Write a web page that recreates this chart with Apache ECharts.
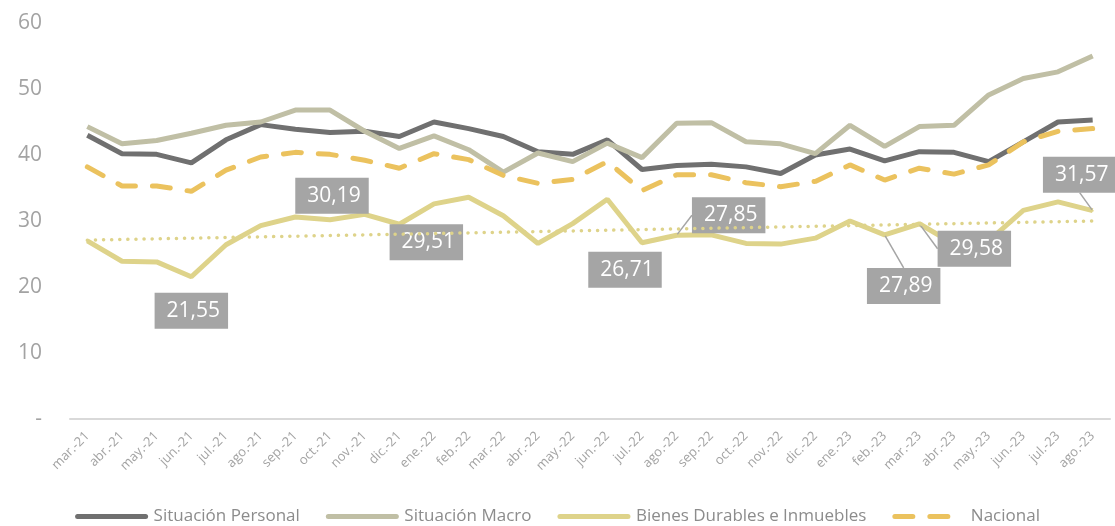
<!DOCTYPE html>
<html>
<head>
<meta charset="utf-8">
<script src="https://cdn.jsdelivr.net/npm/echarts@6/dist/echarts.min.js"></script>
<style>
    html, body { margin: 0; padding: 0; background: #fff; }
    #chart { width: 1115px; height: 526px; }
</style>
</head>
<body>
<div id="chart"></div>
<script>
    // months shown on the x axis
    var months = ['mar.-21', 'abr.-21', 'may.-21', 'jun.-21', 'jul.-21', 'ago.-21', 'sep.-21', 'oct.-21', 'nov.-21', 'dic.-21',
        'ene.-22', 'feb.-22', 'mar.-22', 'abr.-22', 'may.-22', 'jun.-22', 'jul.-22', 'ago.-22', 'sep.-22', 'oct.-22',
        'nov.-22', 'dic.-22', 'ene.-23', 'feb.-23', 'mar.-23', 'abr.-23', 'may.-23', 'jun.-23', 'jul.-23', 'ago.-23'];

    var personal = [43.0, 40.2, 40.1, 38.8, 42.3, 44.6, 43.9, 43.4, 43.6, 42.8,
        45.0, 44.0, 42.8, 40.5, 40.1, 42.3, 37.8, 38.4, 38.6, 38.2,
        37.2, 40.0, 40.9, 39.1, 40.5, 40.4, 39.0, 42.0, 45.0, 45.3];

    var macro = [44.3, 41.7, 42.2, 43.3, 44.5, 45.0, 46.8, 46.8, 43.6, 41.0,
        42.9, 40.8, 37.4, 40.3, 39.0, 41.8, 39.6, 44.8, 44.9, 42.0,
        41.7, 40.2, 44.5, 41.3, 44.3, 44.5, 49.1, 51.6, 52.6, 55.0];

    var bienes = [27.0, 23.9, 23.8, 21.55, 26.4, 29.3, 30.6, 30.19, 31.0, 29.51,
        32.6, 33.6, 30.8, 26.6, 29.6, 33.3, 26.71, 27.85, 27.9, 26.6,
        26.5, 27.4, 30.0, 27.89, 29.58, 26.5, 27.0, 31.6, 32.9, 31.57];

    var nacional = [38.2, 35.3, 35.3, 34.5, 37.7, 39.7, 40.4, 40.1, 39.2, 38.0,
        40.2, 39.3, 36.9, 35.7, 36.3, 39.0, 34.6, 37.0, 37.0, 35.8,
        35.2, 36.0, 38.5, 36.2, 38.0, 37.1, 38.5, 42.0, 43.6, 44.0];

    // start / end of the dotted trend line of Bienes Durables
    var trendEnds = [27.1, 30.0];

    var seriesNames = ['Situación Personal', 'Situación Macro', 'Bienes Durables e Inmuebles', 'Nacional'];

    // which Bienes points carry a value box, and where the box sits
    var labelShift = {
        3: { dx: 0, dy: 34 },
        7: { dx: 2, dy: -24 },
        9: { dx: 27, dy: 18 },
        16: { dx: -17, dy: 27 },
        17: { dx: 52, dy: -20, line: true },
        23: { dx: 19, dy: 51, line: true },
        24: { dx: 55, dy: 25, line: true },
        29: { dx: -13, dy: -36, line: true }
    };

    var font = 'Open Sans';
    var gray = '#a3a3a3';

    var bienesData = bienes.map(function (v, i) {
        var s = labelShift[i];
        if (!s) return v;
        return {
            value: v,
            label: { show: true },
            labelLine: { show: !!s.line, lineStyle: { color: '#a5a5a5', width: 1.5 } }
        };
    });

    var chart = echarts.init(document.getElementById('chart'));
    chart.setOption({
        animation: false,
        textStyle: { fontFamily: font },
        grid: { left: 70, right: 5, top: 23, bottom: 107, containLabel: false },
        legend: {
            data: seriesNames,
            bottom: -4,
            left: 'center',
            itemWidth: 68,
            itemHeight: 12,
            itemGap: 26,
            itemStyle: { opacity: 0 },
            lineStyle: { width: 5, cap: 'round' },
            textStyle: { color: '#8c8c8c', fontSize: 17, fontFamily: font, padding: [0, 0, 0, 3] }
        },
        xAxis: {
            type: 'category',
            data: months,
            boundaryGap: true,
            axisLine: { lineStyle: { color: '#d9d9d9', width: 2 } },
            axisTick: { show: false },
            axisLabel: { rotate: 45, interval: 0, color: gray, fontSize: 13, margin: 15, fontFamily: font }
        },
        yAxis: {
            type: 'value',
            min: 0,
            max: 60,
            interval: 10,
            splitLine: { show: false },
            axisLine: { show: false },
            axisTick: { show: false },
            axisLabel: {
                color: gray, fontSize: 21, margin: 28, fontFamily: font,
                formatter: function (v) { return v === 0 ? '-' : v; }
            }
        },
        series: [
            {
                name: seriesNames[0], type: 'line', data: personal, symbol: 'none', z: 2,
                lineStyle: { color: '#707070', width: 5 }, itemStyle: { color: '#707070' }
            },
            {
                name: seriesNames[1], type: 'line', data: macro, symbol: 'none', z: 3,
                lineStyle: { color: '#c0bfa5', width: 5 }, itemStyle: { color: '#c0bfa5' }
            },
            {
                name: seriesNames[2], type: 'line', data: bienesData, z: 4,
                symbol: 'circle', symbolSize: 2, showSymbol: true, showAllSymbol: true,
                lineStyle: { color: '#ded38a', width: 5 }, itemStyle: { color: '#ded38a' },
                label: {
                    show: false,
                    position: 'inside',
                    formatter: function (p) { return p.value.toFixed(2).replace('.', ','); },
                    backgroundColor: '#a5a5a5',
                    color: '#fff',
                    fontSize: 21,
                    fontFamily: font,
                    padding: [8, 8, 7, 12]
                },
                labelLayout: function (p) {
                    var s = labelShift[p.dataIndex];
                    return s ? { dx: s.dx, dy: s.dy } : {};
                },
                markLine: {
                    silent: true,
                    symbol: ['none', 'none'],
                    label: { show: false },
                    lineStyle: { color: '#ded38a', width: 3.5, type: [0.1, 8], cap: 'round' },
                    data: [[
                        { coord: [months[0], trendEnds[0]] },
                        { coord: [months[months.length - 1], trendEnds[1]] }
                    ]]
                }
            },
            {
                name: seriesNames[3], type: 'line', data: nacional, symbol: 'none', z: 5,
                lineStyle: { color: '#ebc25e', width: 5, type: [18, 17], cap: 'round' },
                itemStyle: { color: '#ebc25e' }
            }
        ]
    });
</script>
</body>
</html>
